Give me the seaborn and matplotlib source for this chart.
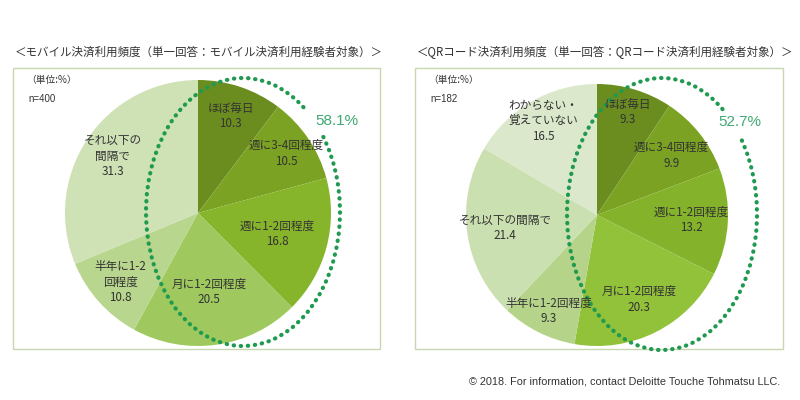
import numpy as np
import matplotlib
matplotlib.use("Agg")
import matplotlib.pyplot as plt
import seaborn as sns
from matplotlib.patches import Rectangle, Arc

sns.set_theme(style="white")
plt.rcParams['font.family'] = ['Noto Sans CJK JP', 'DejaVu Sans']

# ---- data ----
mobile_labels = ["ほぼ毎日", "週に3-4回程度", "週に1-2回程度", "月に1-2回程度", "半年に1-2\n回程度", "それ以下の\n間隔で"]
mobile_values = [10.3, 10.5, 16.8, 20.5, 10.8, 31.3]
mobile_colors = ["#6b8d20", "#7ba222", "#86b52c", "#9fc95e", "#b9d68e", "#cfe2b6"]
mobile_title = "＜モバイル決済利用頻度（単一回答：モバイル決済利用経験者対象）＞"
mobile_n = "n=400"
mobile_share = "58.1%"

qr_labels = ["ほぼ毎日", "週に3-4回程度", "週に1-2回程度", "月に1-2回程度", "半年に1-2回程度", "それ以下の間隔で", "わからない・\n覚えていない"]
qr_values = [9.3, 9.9, 13.2, 20.3, 9.3, 21.4, 16.5]
qr_colors = ["#6b8d20", "#7ba222", "#84b22a", "#92c13a", "#b5d48a", "#cbe0b0", "#dbe8cb"]
qr_title = "＜QRコード決済利用頻度（単一回答：QRコード決済利用経験者対象）＞"
qr_n = "n=182"
qr_share = "52.7%"

footer = "© 2018. For information, contact Deloitte Touche Tohmatsu LLC."

# ---- figure in pixel coordinates ----
W, H = 800, 400
fig = plt.figure(figsize=(8, 4), dpi=100)
ax = fig.add_axes([0, 0, 1, 1])
ax.set_xlim(0, W)
ax.set_ylim(0, H)
ax.set_aspect('equal')
ax.axis('off')

def Y(y):
    return H - y

text_col = "#333333"
green = "#1f9a50"
share_col = "#40a872"

def panel(x0, x1, title, n, labels, values, colors, center, radius, label_fr,
          ell_c, ell_w, ell_h, share, share_xy):
    ax.add_patch(Rectangle((x0, Y(349)), x1 - x0, 349 - 68, fill=False,
                           edgecolor="#c9d7ae", linewidth=1.0))
    ax.text(x0 + 2, Y(52), title, fontsize=8.3, color=text_col, va='center', ha='left')
    ax.text(x0 + 13, Y(80), "（単位:%）", fontsize=7, color=text_col, va='center', ha='left')
    ax.text(x0 + 15, Y(99), n, fontsize=7, color=text_col, va='center', ha='left',
            family=['Liberation Sans', 'DejaVu Sans'])
    wedges, _ = ax.pie(values, colors=colors, startangle=90, counterclock=False,
                       radius=radius, center=(center[0], Y(center[1])),
                       wedgeprops=dict(linewidth=0), frame=True)
    for w, lab, v, fr in zip(wedges, labels, values, label_fr):
        ang = np.deg2rad((w.theta1 + w.theta2) / 2)
        tx = center[0] + fr * radius * np.cos(ang)
        ty = Y(center[1]) + fr * radius * np.sin(ang)
        ax.text(tx, ty, f"{lab}\n{v:.1f}", fontsize=8.4, color=text_col,
                ha='center', va='center', linespacing=1.25)
    ax.add_patch(Arc((ell_c[0], Y(ell_c[1])), ell_w, ell_h, theta1=60, theta2=404,
                     edgecolor=green, linewidth=3.0, linestyle=(0, (0.1, 1.6)),
                     capstyle='round'))
    ax.text(share_xy[0], Y(share_xy[1]), share, fontsize=11, color=share_col,
            ha='center', va='center', family=['Liberation Sans', 'DejaVu Sans'])

panel(13, 380, mobile_title, mobile_n, mobile_labels, mobile_values, mobile_colors,
      center=(198, 213), radius=133, label_fr=[0.77, 0.8, 0.62, 0.6, 0.78, 0.77],
      ell_c=(243, 212), ell_w=194, ell_h=268, share=mobile_share, share_xy=(337, 121))

panel(415, 783, qr_title, qr_n, qr_labels, qr_values, qr_colors,
      center=(597, 215), radius=131, label_fr=[0.82, 0.73, 0.72, 0.72, 0.82, 0.71, 0.83],
      ell_c=(662, 214), ell_w=190, ell_h=272, share=qr_share, share_xy=(740, 122))

ax.set_xlim(0, W)
ax.set_ylim(0, H)
ax.axis('off')

ax.text(780, Y(381), footer, fontsize=7.8, color=text_col, ha='right', va='center',
        family=['Liberation Sans', 'DejaVu Sans'])

fig.savefig("out.png", dpi=100, facecolor="white")
